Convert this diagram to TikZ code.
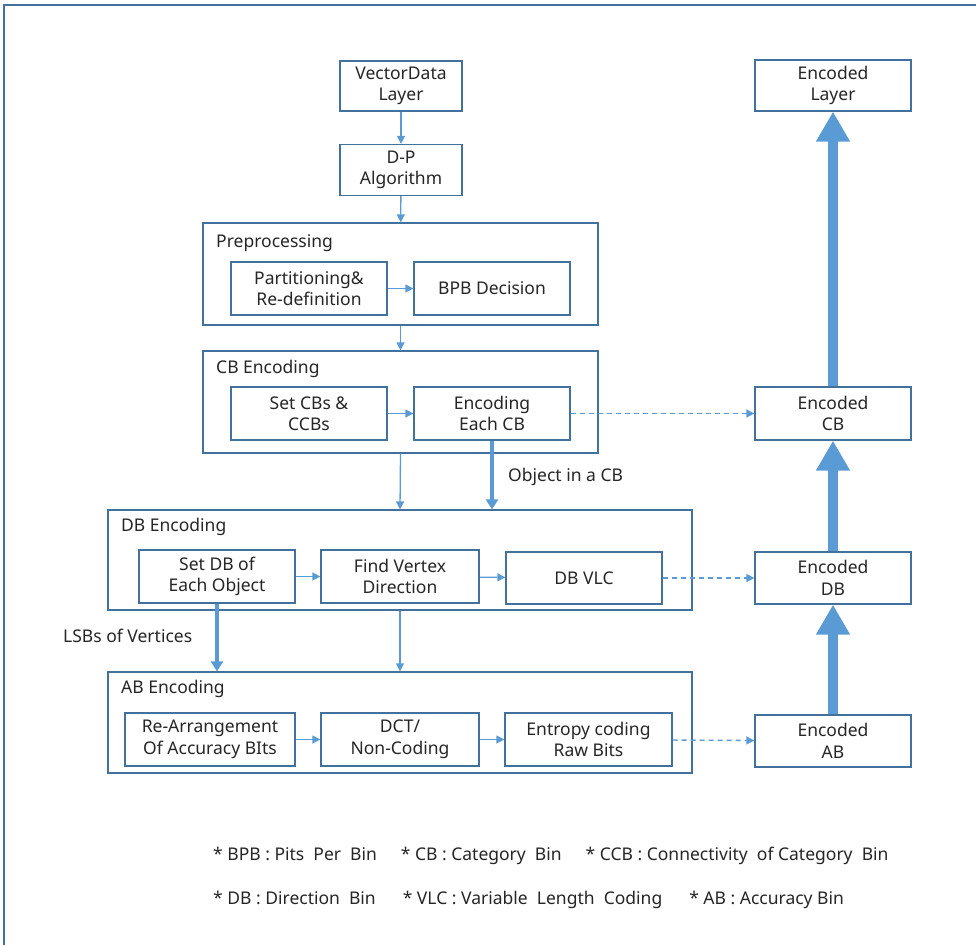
\documentclass[tikz,border=0pt]{standalone}
\usepackage{fontspec}
\setmainfont{Noto Sans}
\usetikzlibrary{arrows.meta}
\definecolor{boxc}{HTML}{41719C}
\definecolor{arrc}{HTML}{5B9BD5}
\definecolor{txt}{HTML}{262626}
\begin{document}
\begin{tikzpicture}[x=1pt,y=-1pt,
  box/.style={draw=boxc,line width=1.2pt,minimum width=156pt,minimum height=52pt,align=center,inner sep=0pt,text=txt,font=\fontsize{17.5}{21.5}\selectfont},
  group/.style={draw=boxc,line width=1.2pt,inner sep=0pt},
  glabel/.style={anchor=west,inner sep=0pt,text=txt,font=\fontsize{17.5}{21}\selectfont},
  thin/.style={draw=arrc,line width=1.3pt,-{Triangle[width=8pt,length=8pt]}},
  mid/.style={draw=arrc,line width=4pt,-{Triangle[width=12pt,length=10pt]}},
  fat/.style={draw=arrc,line width=10pt,-{Triangle[width=32pt,length=30pt]}},
  dasharrow/.style={draw=arrc,line width=1.4pt,dash pattern=on 5pt off 4pt,-{Triangle[width=8pt,length=8pt]}},
  note/.style={anchor=west,inner sep=0pt,text=txt,font=\fontsize{17.5}{21}\selectfont}]
\useasboundingbox (0,0) rectangle (976,945);
\draw[boxc,line width=2pt] (4,945) -- (4,5) -- (976,5);
% left column
\node[box,minimum width=122pt,minimum height=50pt] (vd) at (401,86) {VectorData\\Layer};
\node[box,minimum width=122pt,minimum height=51pt] (dp) at (401,170) {D-P\\Algorithm};
% preprocessing
\node[group,minimum width=395pt,minimum height=102pt] (pre) at (400.5,274) {};
\node[glabel] (prel) at (216,243) {Preprocessing};
\node[box,minimum height=53pt] (part) at (309,288.5) {Partitioning\&\\Re-definition};
\node[box,minimum height=53pt] (bpb) at (492,288.5) {BPB Decision};
% CB encoding
\node[group,minimum width=395pt,minimum height=102pt] (cbe) at (400.5,402) {};
\node[glabel] (cbel) at (216,369) {CB Encoding};
\node[box,minimum height=53pt] (setcb) at (309,413.5) {Set CBs \&\\CCBs};
\node[box,minimum height=53pt] (each) at (492,413.5) {Encoding\\Each CB};
% DB encoding
\node[group,minimum width=584pt,minimum height=100pt] (dbe) at (400,560) {};
\node[glabel] (dbel) at (121,527) {DB Encoding};
\node[box,minimum height=53pt] (setdb) at (217,576.5) {Set DB of\\Each Object};
\node[box,minimum width=158pt,minimum height=53pt] (find) at (400,576.5) {Find Vertex\\Direction};
\node[box,minimum height=52pt] (dbvlc) at (584,578) {DB VLC};
% AB encoding
\node[group,minimum width=584pt,minimum height=101pt] (abe) at (400,722.5) {};
\node[glabel] (abel) at (121,689) {AB Encoding};
\node[box,minimum width=170pt,minimum height=53pt] (rearr) at (210,739.5) {Re-Arrangement\\Of Accuracy BIts};
\node[box,minimum width=158pt,minimum height=53pt] (dct) at (400,739.5) {DCT/\\Non-Coding};
\node[box,minimum width=167pt,minimum height=53pt] (ent) at (588.5,739.5) {Entropy coding\\Raw Bits};
% right column
\node[box,minimum height=51pt] (elay) at (833,85.5) {Encoded\\Layer};
\node[box,minimum height=53pt] (ecb) at (833,413.5) {Encoded\\CB};
\node[box,minimum height=52pt] (edb) at (833,578) {Encoded\\DB};
\node[box,minimum height=52pt] (eab) at (833,741) {Encoded\\AB};
% arrows
\draw[thin] (vd) -- (dp);
\draw[thin] (dp) -- (pre);
\draw[thin] (part) -- (bpb);
\draw[thin] (pre) -- (cbe);
\draw[thin] (setcb) -- (each);
\draw[thin] (cbe.south) -- (dbe.north);
\draw[mid] (each.south) -- (each.south |- dbe.north);
\node[note] (objl) at (508,477) {Object in a CB};
\draw[thin] (setdb) -- (find);
\draw[thin] (find) -- (dbvlc);
\draw[thin] (dbe.south) -- (abe.north);
\draw[mid] (setdb.south) -- (setdb.south |- abe.north);
\node[note] (lsbl) at (63,636) {LSBs of Vertices};
\draw[thin] (rearr) -- (dct);
\draw[thin] (dct) -- (ent);
\draw[dasharrow] (each) -- (ecb);
\draw[dasharrow] (dbvlc) -- (edb);
\draw[dasharrow] (ent) -- (eab);
\draw[fat] (eab) -- (edb);
\draw[fat] (edb) -- (ecb);
\draw[fat] (ecb) -- (elay);
% notes
\node[note] (n1) at (213,856) {* BPB : Pits\ \ Per\ \ Bin\hspace{24pt}* CB : Category\ \ Bin\hspace{24pt}* CCB : Connectivity\ \ of Category\ \ Bin};
\node[note] (n2) at (213,900) {* DB : Direction\ \ Bin\hspace{27pt}* VLC : Variable\ \ Length\ \ Coding\hspace{27pt}* AB : Accuracy Bin};
\end{tikzpicture}
\end{document}
